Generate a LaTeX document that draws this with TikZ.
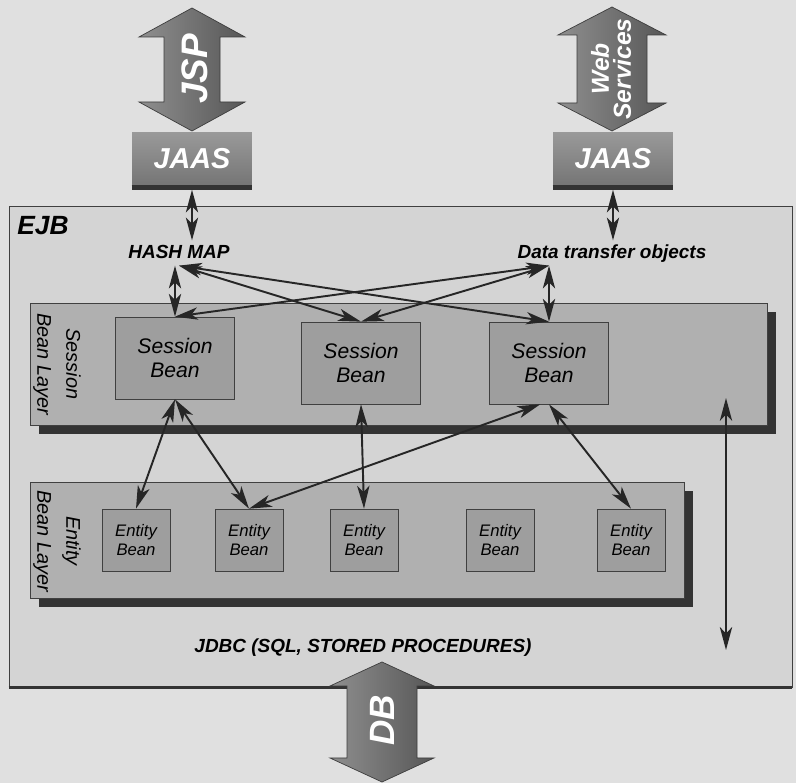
\documentclass[tikz,border=0pt]{standalone}
\usepackage{fontspec}
\setmainfont{Liberation Sans}
\usetikzlibrary{arrows.meta,positioning,shadows}

\definecolor{paper}{gray}{0.88}
\definecolor{ejbfill}{gray}{0.83}
\definecolor{layerfill}{gray}{0.69}
\definecolor{beanfill}{gray}{0.62}
\definecolor{boxline}{gray}{0.25}
\definecolor{shadowgray}{gray}{0.20}
\definecolor{arrowlt}{gray}{0.56}
\definecolor{arrowdk}{gray}{0.34}
\definecolor{jaaslt}{gray}{0.60}
\definecolor{jaasdk}{gray}{0.46}

\tikzset
    {
        layer/.style = {rectangle, draw=boxline, fill=layerfill, inner sep=0pt,
            drop shadow={fill=shadowgray, opacity=1, shadow xshift=0.18cm, shadow yshift=-0.18cm}},
        sbean/.style = {rectangle, draw=boxline, fill=beanfill, align=center, inner sep=0pt,
            minimum width=2.38cm, minimum height=1.64cm, font=\itshape\fontsize{12}{13.5}\selectfont},
        ebean/.style = {rectangle, draw=boxline, fill=beanfill, align=center, inner sep=0pt,
            minimum width=1.36cm, minimum height=1.24cm, font=\itshape\fontsize{9.5}{10.5}\selectfont},
        layertext/.style = {rotate=-90, align=center, inner sep=0pt,
            font=\itshape\fontsize{11.3}{16.4}\selectfont},
        jaas/.style = {rectangle, top color=jaaslt, bottom color=jaasdk, inner sep=0pt,
            minimum width=2.4cm, minimum height=1.04cm, text=white,
            font=\bfseries\itshape\fontsize{16.4}{18}\selectfont},
        bigtext/.style = {rotate=90, align=center, text=white, inner sep=0pt},
        lbl/.style = {inner sep=2pt, text height=8pt, text depth=2pt,
            font=\bfseries\itshape\fontsize{10.8}{13}\selectfont},
        link/.style = {<->, line width=1.1pt, draw=black!85},
        bigarrow/.style = {draw=arrowdk!70!black, line width=0.4pt, left color=arrowlt, right color=arrowdk}
    }

% block arrow with two heads: centre x, top y, bottom y, half shaft, half head, head length
\newcommand{\blockarrow}[6]{%
    \path[bigarrow] (#1,#2) -- ({#1+#5},{#2+#6}) -- ({#1+#4},{#2+#6}) -- ({#1+#4},{#3-#6})
        -- ({#1+#5},{#3-#6}) -- (#1,#3) -- ({#1-#5},{#3-#6}) -- ({#1-#4},{#3-#6})
        -- ({#1-#4},{#2+#6}) -- ({#1-#5},{#2+#6}) -- cycle;}

\begin{document}
\begin{tikzpicture}[x=0.02cm, y=-0.02cm, >={Stealth[length=13pt,width=7pt,inset=3.5pt]}]
    \fill[paper] (0,0) rectangle (796,783);
    \useasboundingbox (0,0) rectangle (796,783);

    % clients on top
    \blockarrow{192}{8}{131}{28}{53}{29}
    \node[bigtext, font=\bfseries\itshape\fontsize{21}{24}\selectfont] (jsp) at (195,69) {JSP};
    \blockarrow{612}{7}{131}{35}{54}{28}
    \node[bigtext, font=\bfseries\itshape\fontsize{14}{12.5}\selectfont] (ws) at (611,69) {Web\\Services};

    \node[jaas] (jaas1) at (192,159) {JAAS};
    \draw[shadowgray, line width=2.5pt] ([yshift=-1.25pt]jaas1.south west) -- ([yshift=-1.25pt]jaas1.south east);
    \node[jaas] (jaas2) at (613,159) {JAAS};
    \draw[shadowgray, line width=2.5pt] ([yshift=-1.25pt]jaas2.south west) -- ([yshift=-1.25pt]jaas2.south east);

    % EJB container
    \node[rectangle, draw=boxline, fill=ejbfill, inner sep=0pt,
          minimum width=15.66cm, minimum height=9.62cm] (ejb) at (400.5,446.5) {};
    \draw[shadowgray, line width=2pt] (ejb.south west) -- (ejb.south east);
    \node[anchor=west, inner sep=0pt, font=\bfseries\itshape\fontsize{15}{18}\selectfont] (ejbname) at (17,226) {EJB};

    \node[lbl] (hash) at (179,253) {HASH MAP};
    \node[lbl] (dto) at (612,253) {Data transfer objects};
    \node[lbl] (jdbc) at (363,647) {JDBC (SQL, STORED PROCEDURES)};

    % layers
    \node[layer, minimum width=14.74cm, minimum height=2.44cm] (sbl) at (398.5,364) {};
    \node[layertext] (sbltext) at (57,364) {Session\\Bean Layer};
    \node[layer, minimum width=13.08cm, minimum height=2.32cm] (ebl) at (357,540) {};
    \node[layertext] (ebltext) at (57,541) {Entity\\Bean Layer};

    % beans
    \node[sbean] (sb1) at (175,358) {Session\\Bean};
    \node[sbean] (sb2) at (361,363) {Session\\Bean};
    \node[sbean] (sb3) at (549,363) {Session\\Bean};
    \foreach \x [count=\i] in {136,249,364,500,631}
        \node[ebean] (eb\i) at (\x,540) {Entity\\Bean};

    % links
    \draw[link] ([yshift=-2.5pt]jaas1.south) -- (jaas1.south |- hash.north);
    \draw[link] ([yshift=-2.5pt]jaas2.south) -- (jaas2.south |- dto.north);
    \coordinate (hs) at (hash.south);
    \coordinate (ds) at (dto.south -| sb3.north);
    \draw[link] (hs -| sb1.north) -- (sb1.north);
    \draw[link] (ds) -- (sb3.north);
    \draw[link] (hs) -- (sb2.north);
    \draw[link] (hs) -- (sb3.north);
    \draw[link] (ds) -- (sb1.north);
    \draw[link] (ds) -- (sb2.north);

    \draw[link] (sb1.south) -- (eb1.north);
    \draw[link] (sb1.south) -- (eb2.north);
    \draw[link] (sb2.south) -- (eb3.north);
    \draw[link] ([xshift=-5pt]sb3.south) -- (eb2.north);
    \draw[link] (sb3.south) -- (eb5.north);

    \coordinate (up) at (726,398);
    \coordinate (down) at (726,650);
    \draw[link] (up) -- (down);

    % database
    \blockarrow{382}{662}{782}{35}{52}{24}
    \node[bigtext, font=\bfseries\itshape\fontsize{20}{24}\selectfont] (db) at (382,720) {DB};
\end{tikzpicture}
\end{document}
